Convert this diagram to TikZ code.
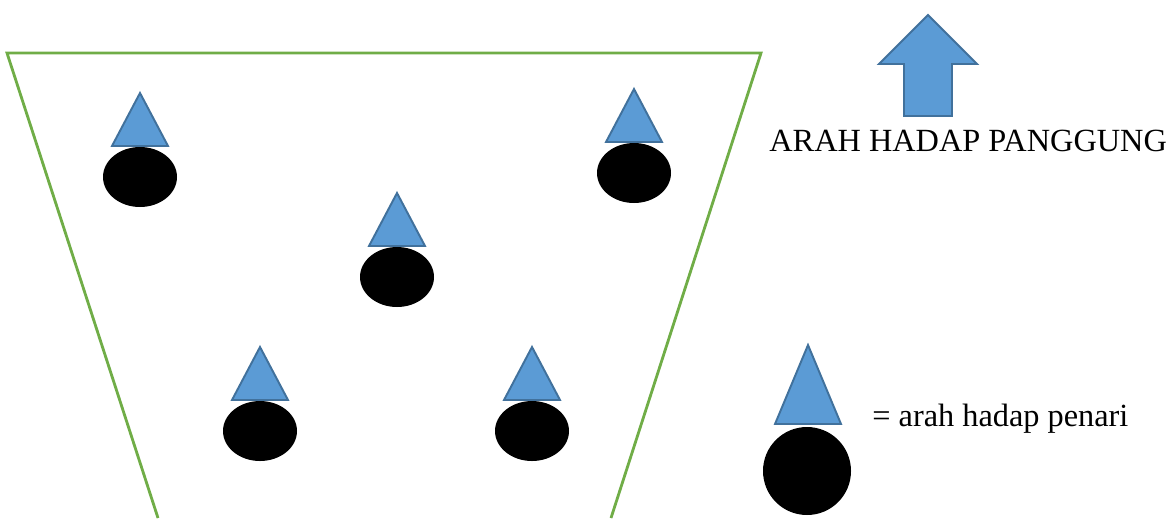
\documentclass[tikz,border=0pt]{standalone}
\usepackage{fontspec}
\setmainfont{Liberation Serif}
\usetikzlibrary{calc}

\definecolor{birumuda}{HTML}{5B9BD5}
\definecolor{birutua}{HTML}{41719C}
\definecolor{hijau}{HTML}{70AD47}

\tikzset{
  arahpenari/.style={fill=birumuda, draw=birutua, line width=1.1pt, line join=miter},
  badanpenari/.style={fill=black},
  keterangan/.style={anchor=base west, inner sep=0pt, font=\fontsize{18.4}{20}\selectfont}
}

\begin{document}
\begin{tikzpicture}[x=0.02cm, y=-0.02cm]

  \useasboundingbox (0,0) rectangle (1169,518);

  % panggung
  \draw[hijau, line width=1.6pt] (158,518) -- (7,53) -- (761,53) -- (611,518);

  % penari
  \foreach \px/\py [count=\i] in {140/93, 634/89, 397/193, 260/347, 532/347} {
    \coordinate (penari\i) at (\px,\py);
    \draw[arahpenari] (penari\i) -- ++(-28,53) -- ++(56,0) -- cycle;
    \fill[badanpenari] ($(penari\i)+(0,84)$) ellipse [x radius=37, y radius=30];
  }

  % arah panggung
  \draw[arahpenari] (928,15) -- (977,64) -- (952,64) -- (952,116)
    -- (904,116) -- (904,64) -- (879,64) -- cycle;
  \node[keterangan] (panggung) at (769,151) {ARAH HADAP PANGGUNG};

  % legenda
  \coordinate (contoh) at (808,345);
  \draw[arahpenari] (contoh) -- ++(-33,79) -- ++(66,0) -- cycle;
  \fill[badanpenari] ($(contoh)+(-1,126)$) circle [radius=44];
  \node[keterangan] (ket) at (872,426) {= arah hadap penari};

\end{tikzpicture}
\end{document}
